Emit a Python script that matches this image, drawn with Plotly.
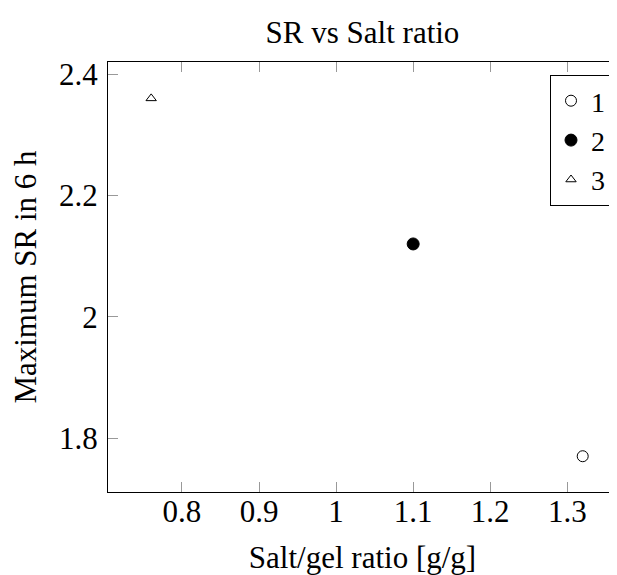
import plotly.graph_objects as go

names = ["1", "2", "3"]
x_vals = [1.32, 1.10, 0.76]
y_vals = [1.77, 2.12, 2.36]
symbols = ["circle-open", "circle", "triangle-up-open"]
sizes = [11, 12, 9]

x_ticks = [0.8, 0.9, 1.0, 1.1, 1.2, 1.3]
x_ticktext = ["0.8", "0.9", "1", "1.1", "1.2", "1.3"]
y_ticks = [1.8, 2.0, 2.2, 2.4]
y_ticktext = ["1.8", "2", "2.2", "2.4"]

FONT = "Times New Roman, Times, Liberation Serif, serif"
FS = 31

fig = go.Figure()
for n, xv, yv, s, sz in zip(names, x_vals, y_vals, symbols, sizes):
    fig.add_trace(go.Scatter(
        x=[xv], y=[yv], mode="markers", name=n,
        marker=dict(symbol=s, size=sz, color="black", line=dict(color="black", width=1)),
    ))

xrange = [0.704, 1.3645]
yrange = [1.711, 2.42]

fig.update_layout(
    width=609, height=567,
    margin=dict(l=100, r=0, t=54, b=83, autoexpand=False),
    paper_bgcolor="white", plot_bgcolor="white",
    font=dict(family=FONT, size=FS, color="black"),
    title=dict(text="SR vs Salt ratio", x=0.5, xref="paper", xanchor="center",
               y=1 - 24 / 567, yref="container", yanchor="middle",
               font=dict(family=FONT, size=FS, color="black")),
    xaxis=dict(range=xrange, tickvals=x_ticks, ticktext=x_ticktext,
               ticks="inside", ticklen=10, tickcolor="#999999", tickwidth=1,
               ticklabelstandoff=-8,
               showline=True, linecolor="black", linewidth=1,
               showgrid=False, zeroline=False, automargin=False,
               title=dict(text="Salt/gel ratio [g/g]", standoff=18,
                          font=dict(family=FONT, size=FS))),
    xaxis2=dict(range=xrange, tickvals=x_ticks, overlaying="x", side="top",
                ticks="inside", ticklen=10, tickcolor="#999999", tickwidth=1,
                showticklabels=False, showline=True, linecolor="black", linewidth=1,
                showgrid=False, zeroline=False, automargin=False),
    yaxis=dict(range=yrange, tickvals=y_ticks, ticktext=y_ticktext,
               ticks="inside", ticklen=10, tickcolor="#999999", tickwidth=1,
               ticklabelstandoff=3,
               showline=True, linecolor="black", linewidth=1,
               showgrid=False, zeroline=False, automargin=False,
               title=dict(text="Maximum SR in 6 h", standoff=18,
                          font=dict(family=FONT, size=FS))),
    legend=dict(x=(611 - 108) / 509, y=(492 - 75) / 430, xanchor="right", yanchor="top",
                bordercolor="black", borderwidth=1, bgcolor="white",
                font=dict(family=FONT, size=28), itemwidth=30,
                tracegroupgap=0),
    showlegend=True,
)
fig.add_trace(go.Scatter(x=[None], y=[None], xaxis="x2", showlegend=False, hoverinfo="skip"))

fig.write_html("out.html")
